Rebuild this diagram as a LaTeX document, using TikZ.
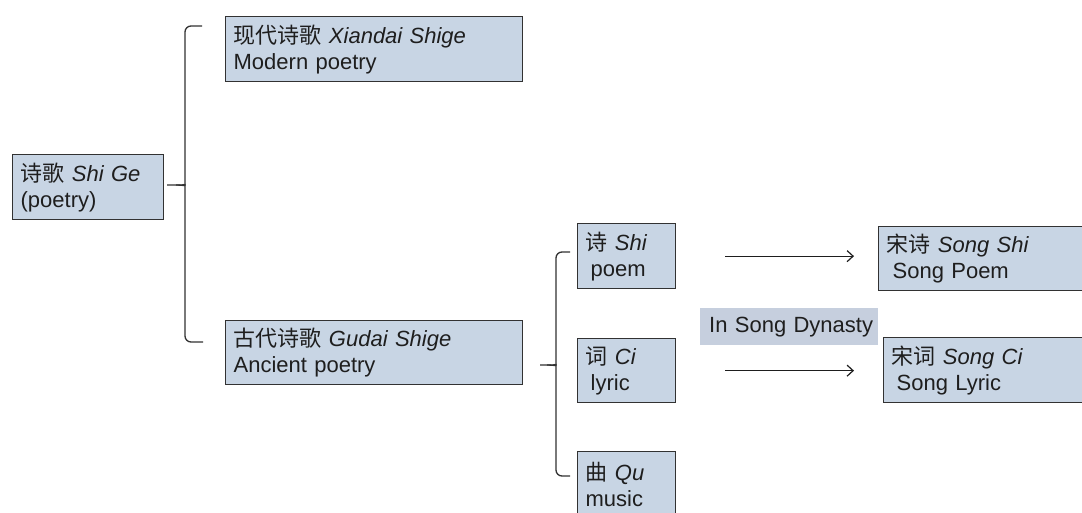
\documentclass[tikz,border=0pt]{standalone}
\usepackage{fontspec}
\setmainfont{Liberation Sans}
\newfontfamily\cjk{Noto Sans CJK SC}
\usetikzlibrary{arrows.meta}
\definecolor{boxfill}{RGB}{200,213,228}
\definecolor{tagfill}{RGB}{198,207,222}
\definecolor{edge}{RGB}{50,50,50}
\definecolor{ink}{RGB}{30,30,30}
\begin{document}
\begin{tikzpicture}[x=1pt,y=-1pt,
  box/.style={draw=edge, line width=1.3pt, fill=boxfill, anchor=north west,
    inner xsep=8pt, inner ysep=0pt, align=left, text=ink,
    font=\fontsize{22}{26}\selectfont},
  tag/.style={fill=tagfill, anchor=north west, inner xsep=0pt, inner ysep=0pt,
    align=left, text=ink, font=\fontsize{22}{26}\selectfont},
  brace/.style={draw=edge, line width=1.3pt},
  arr/.style={draw=ink, line width=1.2pt, -{Straight Barb[length=6pt,width=11pt]}}]
\useasboundingbox (0,0) rectangle (1082,512);
\clip (0,0) rectangle (1082,512);
\fill[white] (0,0) rectangle (1082,512);

\node[box, text width=135pt, minimum height=65pt] (shige) at (12,154)
  {{\cjk 诗歌} \textit{Shi Ge}\\(poetry)};
\node[box, text width=281pt, minimum height=65pt] (xiandai) at (225,16)
  {{\cjk 现代诗歌} \textit{Xiandai Shige}\\Modern poetry};
\node[box, text width=281pt, minimum height=64pt] (gudai) at (225,320)
  {{\cjk 古代诗歌} \textit{Gudai Shige}\\Ancient poetry};
\node[box, text width=82pt, minimum height=65pt] (shi) at (577,223)
  {{\cjk 诗} \textit{Shi}\\\hspace*{5pt}poem};
\node[box, text width=82pt, minimum height=64pt] (ci) at (577,338)
  {{\cjk 词} \textit{Ci}\\\hspace*{5pt}lyric};
\node[box, text width=82pt, minimum height=65pt] (qu) at (577,451)
  {{\cjk 曲} \textit{Qu}\\music};
\node[box, text width=204pt, minimum height=64pt] (songshi) at (878,226)
  {{\cjk 宋诗} \textit{Song Shi}\\\hspace*{6pt}Song Poem};
\node[box, text width=204pt, minimum height=65pt] (songci) at (883,337)
  {{\cjk 宋词} \textit{Song Ci}\\\hspace*{5pt}Song Lyric};
\node[tag, text width=178pt, minimum height=37pt] (dyn) at (700,308)
  {\hspace*{9pt}\mbox{In Song Dynasty}};

% brace from Shi Ge
\coordinate (b1tip) at (167,185);
\coordinate (b1top) at (202,26);
\coordinate (b1bot) at (203,342);
\draw[brace, rounded corners=6pt] (b1top) -- (185,26) -- (185,179)
  .. controls (185,184) and (182,185) .. (176,185) -- (b1tip);
\draw[brace, rounded corners=6pt] (b1bot) -- (185,342) -- (185,191)
  .. controls (185,186) and (182,185) .. (176,185);

% brace from Gudai Shige
\coordinate (b2tip) at (540,365);
\coordinate (b2top) at (570,252);
\coordinate (b2bot) at (570,476);
\draw[brace, rounded corners=6pt] (b2top) -- (556,252) -- (556,359)
  .. controls (556,364) and (553,365) .. (547,365) -- (b2tip);
\draw[brace, rounded corners=6pt] (b2bot) -- (556,476) -- (556,371)
  .. controls (556,366) and (553,365) .. (547,365);

% arrows
\draw[arr, shorten <=49pt, shorten >=24pt] (shi.east) -- (shi.east -| songshi.west);
\draw[arr, shorten <=49pt, shorten >=29pt] (ci.east) -- (ci.east -| songci.west);
\end{tikzpicture}
\end{document}
